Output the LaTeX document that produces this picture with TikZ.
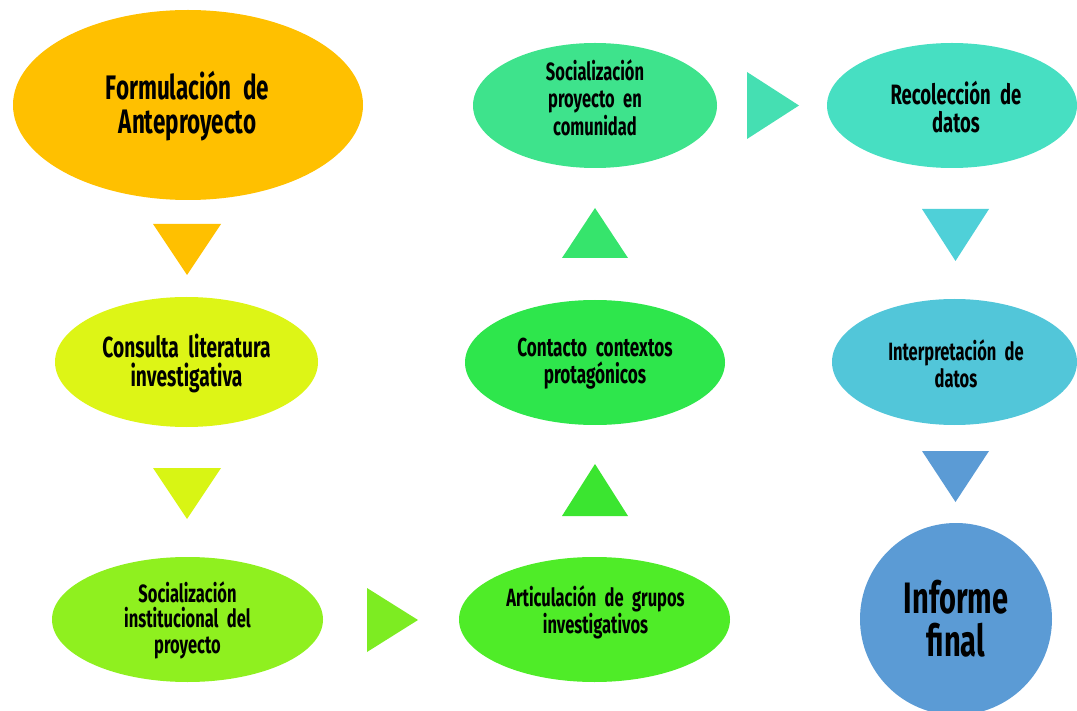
\documentclass[tikz,border=0pt]{standalone}
\usepackage{fontspec}
\setmainfont{Fira Sans}[FakeStretch=0.66, WordSpace=1.4]
\usetikzlibrary{shapes.geometric}
\definecolor{cA}{HTML}{FFC000}
\definecolor{cB}{HTML}{DDF516}
\definecolor{cBt}{HTML}{D8F514}
\definecolor{cC}{HTML}{8FF01F}
\definecolor{cCt}{HTML}{7DEC22}
\definecolor{cD}{HTML}{4FEC28}
\definecolor{cDt}{HTML}{3BE530}
\definecolor{cE}{HTML}{2EE64C}
\definecolor{cEt}{HTML}{36E46C}
\definecolor{cF}{HTML}{3EE38C}
\definecolor{cFt}{HTML}{45DFB2}
\definecolor{cG}{HTML}{47DFC2}
\definecolor{cGt}{HTML}{4FD0D8}
\definecolor{cH}{HTML}{52C6D9}
\definecolor{cI}{HTML}{5B9BD5}
\begin{document}
\begin{tikzpicture}[x=1pt,y=-1pt,
  stage/.style={ellipse, draw=none, inner sep=0pt},
  lbl/.style 2 args={align=center, inner sep=0pt, text=black, text width=240pt,
    font=\bfseries\fontsize{#1}{#2}\selectfont},
  tri/.style={fill=#1, draw=none}]
\useasboundingbox (0,0) rectangle (1077,711);
% stages
\node[stage, fill=cA, minimum width=350pt, minimum height=190pt] (s1) at (188,105) {};
\node[stage, fill=cB, minimum width=263pt, minimum height=130pt] (s2) at (186.5,362) {};
\node[stage, fill=cC, minimum width=271pt, minimum height=125pt] (s3) at (187.5,619.5) {};
\node[stage, fill=cD, minimum width=271pt, minimum height=125pt] (s4) at (594.5,619.5) {};
\node[stage, fill=cE, minimum width=260pt, minimum height=125pt] (s5) at (595,362.5) {};
\node[stage, fill=cF, minimum width=244pt, minimum height=125pt] (s6) at (595,105.5) {};
\node[stage, fill=cG, minimum width=250pt, minimum height=125pt] (s7) at (952,105.5) {};
\node[stage, fill=cH, minimum width=245pt, minimum height=126pt] (s8) at (954.5,362) {};
\node[circle, fill=cI, draw=none, minimum size=192pt, inner sep=0pt] (s9) at (956,619) {};
% labels
\node[lbl={34}{34}] (t1) at (187.5,106) {Formulación de\\Anteproyecto};
\node[lbl={29}{29}] (t2) at (186.5,363) {Consulta literatura\\investigativa};
\node[lbl={25}{25.5}] (t3) at (187.5,620) {Socialización\\institucional del\\proyecto};
\node[lbl={25}{27}] (t4) at (595.5,612) {Articulación de grupos\\investigativos};
\node[lbl={26}{27}] (t5) at (595,364) {Contacto contextos\\protagónicos};
\node[lbl={25}{27.5}] (t6) at (595,97.5) {Socialización\\proyecto en\\comunidad};
\node[lbl={28}{28}] (t7) at (956,107) {Recolección de\\datos};
\node[lbl={25}{27}] (t8) at (956,364) {Interpretación de\\datos};
\node[lbl={44}{43}] (t9) at (956,619) {Informe\\final};
% triangle arrows
\fill[tri=cA]  (153,224) -- (221,224) -- (187,275) -- cycle;
\fill[tri=cBt] (153,468) -- (221,468) -- (187,519) -- cycle;
\fill[tri=cCt] (367,588) -- (367,652) -- (418,620) -- cycle;
\fill[tri=cDt] (562,516) -- (628,516) -- (595,464) -- cycle;
\fill[tri=cEt] (562,258) -- (628,258) -- (595,208) -- cycle;
\fill[tri=cFt] (747,72) -- (747,139) -- (799,105.5) -- cycle;
\fill[tri=cGt] (922,209) -- (989,209) -- (955.5,261) -- cycle;
\fill[tri=cI]  (922,451) -- (989,451) -- (955.5,502) -- cycle;
\end{tikzpicture}
\end{document}
